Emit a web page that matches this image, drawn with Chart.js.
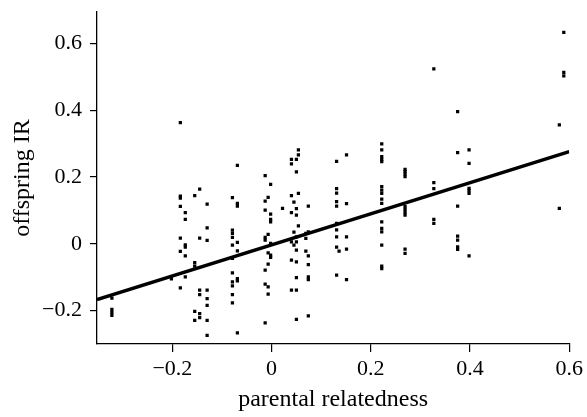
<!DOCTYPE html>
<html>
<head>
<meta charset="utf-8">
<script src="https://cdn.jsdelivr.net/npm/chart.js@4/dist/chart.umd.min.js"></script>
<style>
  html, body { margin: 0; padding: 0; background: #fff; }
  #wrap { width: 587px; height: 417px; }
</style>
</head>
<body>
<div id="wrap"><canvas id="chart" width="587" height="417"></canvas></div>
<script>
// parental relatedness of each column of points, and offspring IR values in that column
var relatedness = [
    -0.322, -0.202, -0.184, -0.174, -0.155, -0.145, -0.130,
    -0.079, -0.069, -0.013, -0.007, -0.002, 0.022,
    0.040, 0.045, 0.050, 0.054, 0.069, 0.074,
    0.131, 0.136, 0.151, 0.222, 0.269, 0.327, 0.375, 0.398, 0.580, 0.589
];
var offspringIR = [
    [-0.163, -0.196, -0.205, -0.214],
    [-0.105],
    [0.363, 0.143, 0.137, 0.112, 0.017, -0.023, -0.132],
    [0.093, 0.073, -0.003, -0.010, -0.036, -0.099],
    [0.144, -0.056, -0.067, -0.202, -0.229],
    [0.164, 0.017, -0.139, -0.152, -0.209, -0.221],
    [0.119, 0.048, 0.010, -0.139, -0.164, -0.184, -0.229, -0.274],
    [0.138, 0.041, 0.031, 0.019, -0.004, -0.044, -0.087, -0.114, -0.126, -0.152, -0.177],
    [0.235, 0.121, 0.113, 0.004, -0.021, -0.104, -0.111, -0.267],
    [0.204, 0.128, 0.101, 0.019, 0.011, -0.079, -0.121, -0.237],
    [0.139, 0.028, -0.027, -0.061, -0.129, -0.151],
    [0.178, 0.089, 0.073, 0.066, 0.001, -0.034, -0.041],
    [0.106],
    [0.253, 0.239, 0.144, 0.093, 0.006, -0.049, -0.139],
    [0.125, 0.035, -0.004],
    [0.253, 0.215, 0.105, 0.086, 0.021, 0.006, -0.019, -0.054, -0.101, -0.139, -0.226],
    [0.281, 0.266, 0.151, 0.054],
    [0.031, 0.016, -0.022],
    [0.113, 0.036, -0.036, -0.062, -0.099, -0.107, -0.216],
    [0.247, 0.165, 0.152, 0.126, 0.113, 0.061, 0.042, 0.021, -0.010, -0.094],
    [-0.022],
    [0.266, 0.120, 0.021, -0.016, -0.107],
    [0.299, 0.281, 0.261, 0.253, 0.246, 0.171, 0.161, 0.151, 0.134, 0.121, 0.066, 0.046, 0.036, -0.004, -0.067, -0.074],
    [0.223, 0.216, 0.209, 0.201, 0.111, 0.103, 0.094, 0.086, -0.016, -0.029],
    [0.524, 0.183, 0.165, 0.073, 0.061],
    [0.396, 0.273, 0.113, 0.023, 0.011, -0.009, -0.017],
    [0.281, 0.241, 0.166, 0.159, 0.151, -0.036],
    [0.356, 0.106],
    [0.633, 0.513, 0.503]
];

// fitted regression line, end points
var fitX = [-0.352, 0.6];
var fitY = [-0.167, 0.276];

var xTicks = [-0.2, 0, 0.2, 0.4, 0.6];
var yTicks = [-0.2, 0, 0.2, 0.4, 0.6];

var points = [];
for (var i = 0; i < relatedness.length; i++) {
    for (var j = 0; j < offspringIR[i].length; j++) {
        points.push({ x: relatedness[i], y: offspringIR[i][j] });
    }
}
var fitLine = [];
for (var k = 0; k < fitX.length; k++) {
    fitLine.push({ x: fitX[k], y: fitY[k] });
}

function fmt(v) {
    if (v < 0) return '\u2212' + Math.abs(v);
    return String(v);
}

var serif = "'Liberation Serif', 'Times New Roman', serif";

var ctx = document.getElementById('chart').getContext('2d');
var chart = new Chart(ctx, {
    type: 'scatter',
    data: {
        datasets: [{
            type: 'line',
            data: fitLine,
            borderColor: '#000',
            borderWidth: 3.5,
            pointRadius: 0,
            fill: false,
            tension: 0
        }, {
            data: points,
            pointStyle: 'rect',
            pointRadius: 2.3,
            pointBorderWidth: 0,
            backgroundColor: '#000',
            borderColor: '#000'
        }]
    },
    options: {
        responsive: false,
        animation: false,
        events: [],
        layout: { padding: { top: 12, right: 17, left: 0, bottom: 0 } },
        plugins: {
            legend: { display: false },
            tooltip: { enabled: false }
        },
        scales: {
            x: {
                type: 'linear',
                min: -0.352,
                max: 0.6,
                afterBuildTicks: function (scale) {
                    scale.ticks = xTicks.map(function (v) { return { value: v }; });
                },
                afterFit: function (scale) { scale.height = 73; },
                grid: { display: true, drawOnChartArea: false, drawTicks: true, tickLength: 8, color: '#000', lineWidth: 1.2 },
                border: { display: true, color: '#000', width: 1.3 },
                ticks: {
                    color: '#000',
                    padding: 4,
                    maxRotation: 0,
                    font: { family: serif, size: 22 },
                    callback: function (v) { return fmt(v); }
                },
                title: {
                    display: true,
                    text: 'parental relatedness',
                    color: '#000',
                    font: { family: serif, size: 24 },
                    padding: { top: 0, bottom: 3 }
                }
            },
            y: {
                type: 'linear',
                min: -0.3,
                max: 0.694,
                afterBuildTicks: function (scale) {
                    scale.ticks = yTicks.map(function (v) { return { value: v }; });
                },
                afterFit: function (scale) {
                    scale.width = 97;
                    scale.paddingTop = 0;
                    scale.paddingBottom = 0;
                },
                grid: { display: true, drawOnChartArea: false, drawTicks: true, tickLength: 7, color: '#000', lineWidth: 1.2 },
                border: { display: true, color: '#000', width: 1.3 },
                ticks: {
                    color: '#000',
                    padding: 8,
                    font: { family: serif, size: 22 },
                    callback: function (v) { return fmt(v); }
                },
                title: {
                    display: true,
                    text: 'offspring IR',
                    color: '#000',
                    font: { family: serif, size: 24 },
                    padding: { top: 8, bottom: 0 }
                }
            }
        }
    }
});
</script>
</body>
</html>
